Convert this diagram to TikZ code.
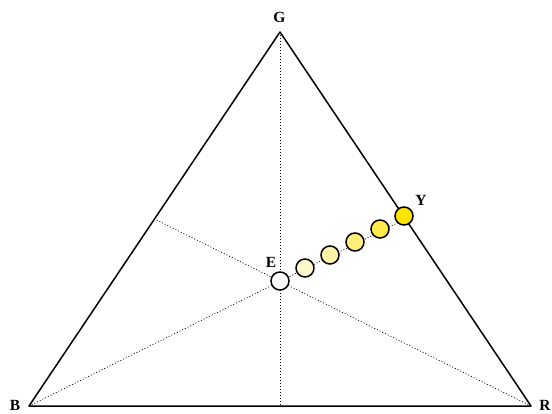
\documentclass[tikz,border=0pt]{standalone}
\usepackage{fontspec}
\setmainfont{Liberation Serif}
\begin{document}
\begin{tikzpicture}[x=1pt,y=-1pt,
  lbl/.style={font=\fontsize{15.5}{18}\selectfont\bfseries, inner sep=0pt},
  dot/.style={circle, draw=black, line width=1.5pt, minimum size=18pt, inner sep=0pt},
  guide/.style={dash pattern=on 1pt off 2pt, line width=0.7pt},
  side/.style={line width=1.5pt, line join=round}]
\useasboundingbox (0,0) rectangle (552,414);
\definecolor{c1}{HTML}{FFF8CC}
\definecolor{c2}{HTML}{FFF3A6}
\definecolor{c3}{HTML}{FFEE7A}
\definecolor{c4}{HTML}{FFEA4A}
\definecolor{c5}{HTML}{FFE300}
\coordinate (B) at (29,406);
\coordinate (R) at (531,406);
\coordinate (G) at (280,32);
\coordinate (mBR) at (280,406);
\coordinate (mGB) at (154.5,219);
\coordinate (mGR) at (405.5,219);
% guides
\draw[guide] (G) -- (mBR);
\draw[guide] (B) -- (mGR);
\draw[guide] (R) -- (mGB);
% triangle
\draw[side] (B) -- (G) -- (R) -- cycle;
% circles
\node[dot, fill=white] (E) at (280,281) {};
\node[dot, fill=c1] (d1) at (305,268) {};
\node[dot, fill=c2] (d2) at (330,255) {};
\node[dot, fill=c3] (d3) at (355,242) {};
\node[dot, fill=c4] (d4) at (380,229) {};
\node[dot, fill=c5] (Y) at (404,216) {};
% labels
\node[lbl] (lG) at (279.5,17) {G};
\node[lbl] (lB) at (15,405) {B};
\node[lbl] (lR) at (545,405) {R};
\node[lbl] (lE) at (271,262) {E};
\node[lbl] (lY) at (421,200) {Y};
\end{tikzpicture}
\end{document}
